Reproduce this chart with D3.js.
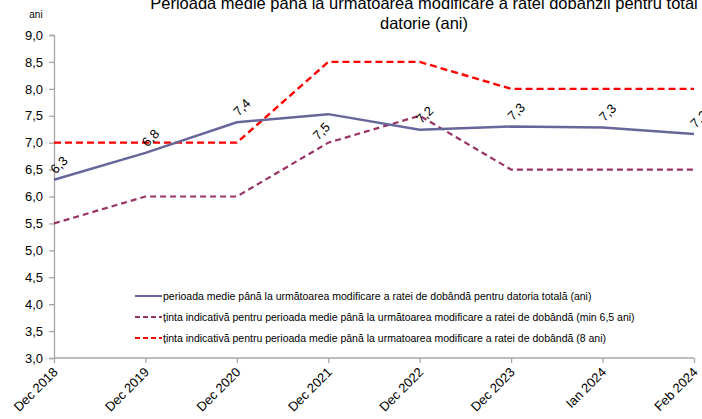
<!DOCTYPE html>
<html>
<head>
<meta charset="utf-8">
<title>Perioada medie</title>
<script src="https://cdn.jsdelivr.net/npm/d3@7"></script>
<style>
    body { margin: 0; background: #fff; font-family: Arial, 'Liberation Sans', sans-serif; overflow: hidden; }
    svg text { fill: #000; }
</style>
</head>
<body>
<div id="container"></div>
<script>
    // categories and series
    var categories = ["Dec 2018", "Dec 2019", "Dec 2020", "Dec 2021", "Dec 2022", "Dec 2023", "Ian 2024", "Feb 2024"];
    var actual = [6.31, 6.81, 7.38, 7.53, 7.24, 7.30, 7.28, 7.16];
    var targetMin = [5.5, 6.0, 6.0, 7.0, 7.5, 6.5, 6.5, 6.5];
    var target8 = [7.0, 7.0, 7.0, 8.5, 8.5, 8.0, 8.0, 8.0];
    var yTicks = [3.0, 3.5, 4.0, 4.5, 5.0, 5.5, 6.0, 6.5, 7.0, 7.5, 8.0, 8.5, 9.0];
    var legendNames = [
        "perioada medie până la următoarea modificare a ratei de dobândă pentru datoria totală (ani)",
        "ținta indicativă pentru perioada medie până la următoarea modificare a ratei de dobândă (min 6,5 ani)",
        "ținta indicativă pentru perioada medie până la urmatoarea modificare a ratei de dobândă (8 ani)"
    ];

    var W = 702, H = 419;
    var svg = d3.select("#container").append("svg").attr("width", W).attr("height", H);

    var x = d3.scalePoint().domain(categories).range([54, 694]);
    var y = d3.scaleLinear().domain([3, 9]).range([358, 35]);
    var fmt = function (v) { return d3.format(".1f")(v).replace(".", ","); };

    // title (top line is clipped by the edge in the original too)
    var title = svg.append("text").attr("text-anchor", "middle").style("font-size", "16.5px");
    title.append("tspan").attr("x", 424).attr("y", 9).text("Perioada medie până la urmatoarea modificare a ratei dobânzii pentru total");
    title.append("tspan").attr("x", 424).attr("y", 29).text("datorie (ani)");

    svg.append("text").attr("x", 36).attr("y", 18).attr("text-anchor", "middle")
        .style("font-size", "10px").text("ani");

    // y axis
    var yAxis = svg.append("g").attr("transform", "translate(54,0)")
        .call(d3.axisLeft(y).tickValues(yTicks).tickFormat(fmt).tickSize(5).tickPadding(6));
    yAxis.selectAll("path, line").attr("stroke", "#a6a6a6").attr("stroke-width", 1.3);
    yAxis.selectAll("text").style("font-size", "13px").style("font-family", "Arial, 'Liberation Sans', sans-serif").attr("fill", "#000");

    // x axis
    var xAxis = svg.append("g").attr("transform", "translate(0,358)")
        .call(d3.axisBottom(x).tickSize(5).tickSizeOuter(0));
    xAxis.select("path").attr("d", "M54,0H694").attr("stroke", "#a6a6a6").attr("stroke-width", 1.3);
    xAxis.selectAll("line").attr("stroke", "#a6a6a6").attr("stroke-width", 1.3);
    xAxis.selectAll("text")
        .style("font-size", "13px").style("font-family", "Arial, 'Liberation Sans', sans-serif").attr("fill", "#000")
        .attr("text-anchor", "end").attr("dy", 0).attr("y", 0)
        .attr("transform", "translate(4,15) rotate(-45)");

    var line = d3.line().x(function (d, i) { return x(categories[i]); }).y(function (d) { return y(d); });

    var series = [
        { data: target8, color: "#ff0000", width: 2.4, dash: "7,4" },
        { data: targetMin, color: "#993366", width: 2.2, dash: "6,4" },
        { data: actual, color: "#66669a", width: 2.5, dash: null }
    ];

    svg.selectAll("path.series").data(series).enter().append("path")
        .attr("class", "series")
        .attr("d", function (s) { return line(s.data); })
        .attr("fill", "none")
        .attr("stroke", function (s) { return s.color; })
        .attr("stroke-width", function (s) { return s.width; })
        .attr("stroke-dasharray", function (s) { return s.dash; });

    // value labels, rotated like in the original
    svg.selectAll("text.lbl").data(actual).enter().append("text")
        .attr("class", "lbl")
        .attr("text-anchor", "middle")
        .style("font-size", "13px")
        .attr("transform", function (d, i) {
            var dx = i === 3 ? -7 : 5, dy = i === 3 ? 17 : -15;
            return "translate(" + (x(categories[i]) + dx) + "," + (y(d) + dy) + ") rotate(-45)";
        })
        .attr("dy", "0.35em")
        .text(fmt);

    // legend
    var legendStyle = [series[2], series[1], series[0]];
    var leg = svg.append("g").attr("transform", "translate(135,296)");
    legendStyle.forEach(function (s, i) {
        var g = leg.append("g").attr("transform", "translate(0," + (i * 21) + ")");
        g.append("line").attr("x1", 0).attr("x2", 27).attr("y1", 0).attr("y2", 0)
            .attr("stroke", s.color).attr("stroke-width", 2).attr("stroke-dasharray", s.dash ? "5,3" : null);
        g.append("text").attr("x", 28).attr("y", 0).attr("dy", "0.35em")
            .style("font-size", "10.5px").text(legendNames[i]);
    });
</script>
</body>
</html>
